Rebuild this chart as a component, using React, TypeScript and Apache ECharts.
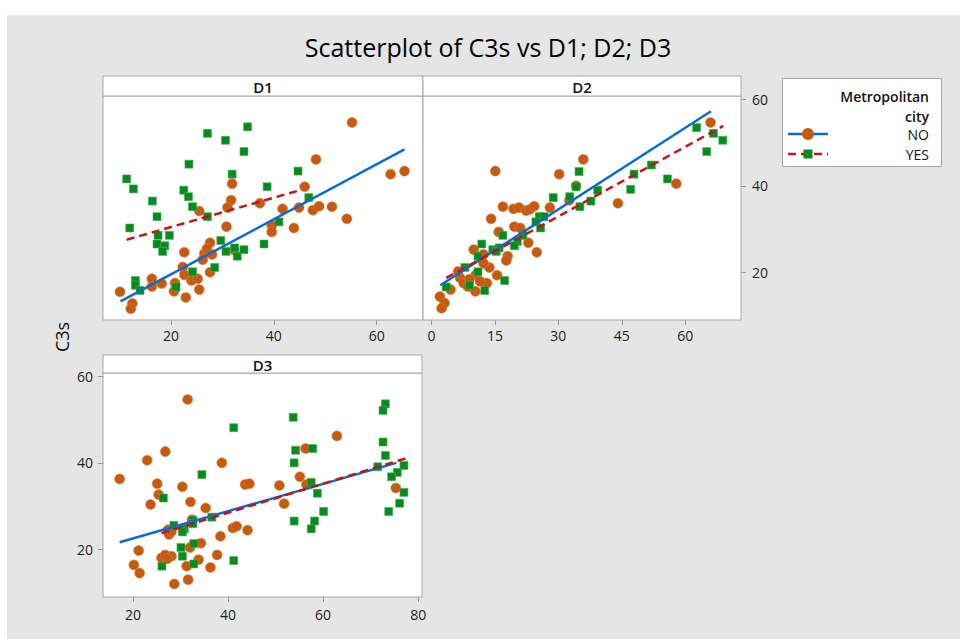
import React, { useEffect, useRef } from "react";
import * as echarts from "echarts";

// ---- data ----
const panelNames = ["D1", "D2", "D3"];
const yTicks = [20, 40, 60];
const d1Ticks = [20, 40, 60];
const d2Ticks = [0, 15, 30, 45, 60];
const d3Ticks = [20, 40, 60, 80];
const legendTitle = ["Metropolitan", "city"];
const groups = ["NO", "YES"];

const d1No: [number, number][] = [
  [55.2, 54.6], [48.2, 46.1], [62.7, 42.7], [65.4, 43.4], [46.0, 39.8], [31.9, 40.5],
  [31.7, 36.7], [31.0, 35.0], [37.3, 36.0], [25.5, 34.2], [41.7, 34.7], [44.9, 35.0],
  [47.6, 34.4], [48.8, 35.3], [51.3, 35.2], [54.2, 32.4], [30.8, 30.6], [39.6, 30.9],
  [39.6, 29.4], [43.9, 30.3], [27.6, 26.9], [22.6, 24.7], [26.5, 24.4], [28.0, 24.2],
  [26.2, 23.0], [32.3, 25.2], [22.3, 21.3], [22.6, 19.5], [27.6, 20.1], [16.3, 18.6],
  [16.3, 16.8], [18.2, 17.5], [20.8, 17.6], [20.6, 15.7], [24.0, 18.2], [25.2, 18.6],
  [25.5, 16.1], [22.9, 14.3], [10.1, 15.6], [12.5, 12.9], [12.2, 11.7], [27.0, 25.5],
];
const d1Yes: [number, number][] = [
  [34.9, 53.6], [27.1, 52.1], [30.6, 50.5], [34.2, 47.9], [23.5, 45.0], [11.4, 41.6],
  [12.7, 39.3], [31.9, 42.7], [44.7, 43.4], [38.7, 39.8], [22.5, 39.0], [23.4, 37.5],
  [16.4, 36.5], [24.2, 35.2], [46.8, 37.3], [17.3, 32.9], [27.1, 32.9], [12.0, 30.3],
  [17.5, 28.6], [19.7, 28.6], [17.3, 26.6], [18.8, 26.2], [18.4, 24.9], [41.0, 31.7],
  [29.7, 27.4], [30.7, 24.9], [32.4, 25.7], [32.9, 23.8], [34.2, 25.3], [38.1, 26.6],
  [28.5, 21.2], [24.2, 20.2], [13.1, 18.2], [13.1, 17.1], [14.0, 15.9], [21.0, 16.7],
];
const d2No: [number, number][] = [
  [66.0, 54.6], [57.9, 40.5], [44.1, 36.0], [35.9, 46.1], [30.2, 42.7], [34.2, 40.0],
  [32.6, 36.7], [15.1, 43.4], [28.0, 35.0], [16.9, 35.2], [19.4, 34.7], [20.7, 35.0],
  [22.4, 34.3], [23.3, 34.6], [24.3, 35.3], [14.1, 32.4], [19.6, 30.6], [21.0, 30.3],
  [15.9, 29.4], [22.9, 26.9], [24.9, 24.7], [10.0, 25.3], [12.3, 24.2], [18.0, 23.8],
  [17.7, 22.8], [13.7, 21.2], [15.5, 19.4], [13.1, 17.6], [10.4, 15.7], [6.3, 20.3],
  [6.8, 18.8], [7.6, 17.6], [8.6, 16.8], [10.5, 19.5], [4.5, 16.1], [2.0, 14.5],
  [3.1, 13.0], [2.4, 11.8], [12.3, 22.2], [9.0, 18.5], [11.5, 18.0],
];
const d2Yes: [number, number][] = [
  [62.7, 53.4], [66.7, 52.1], [68.9, 50.5], [65.1, 47.9], [52.0, 44.8], [47.9, 42.7],
  [47.1, 39.2], [55.8, 41.6], [34.9, 43.3], [34.2, 39.8], [39.3, 39.0], [32.7, 37.5],
  [37.7, 36.5], [35.1, 35.2], [28.8, 37.3], [25.5, 32.9], [26.6, 32.9], [24.7, 31.7],
  [25.8, 30.3], [16.9, 28.6], [21.6, 28.6], [20.3, 27.2], [19.6, 26.2], [16.0, 25.7],
  [14.5, 25.3], [15.3, 24.9], [11.9, 26.6], [11.0, 23.8], [7.9, 21.2], [11.0, 20.2],
  [17.3, 18.2], [9.0, 17.1], [12.6, 15.9], [3.5, 16.7],
];
const d3No: [number, number][] = [
  [17.2, 36.3], [31.5, 54.6], [23.0, 40.6], [26.8, 42.6], [38.7, 40.0], [25.1, 35.2],
  [25.4, 32.7], [23.7, 30.4], [30.4, 34.5], [32.1, 31.0], [35.3, 29.6], [62.9, 46.2],
  [56.3, 43.3], [55.1, 36.8], [56.5, 35.0], [43.6, 35.0], [44.5, 35.2], [50.8, 34.8],
  [51.8, 30.6], [75.3, 34.2], [21.2, 19.8], [20.2, 16.5], [21.4, 14.6], [27.4, 24.6],
  [27.6, 23.5], [28.1, 24.2], [26.0, 18.1], [26.8, 18.8], [28.1, 18.5], [27.2, 17.9],
  [28.7, 12.1], [31.3, 16.2], [31.6, 13.1], [32.0, 20.5], [34.3, 21.5], [33.8, 17.7],
  [36.3, 15.9], [37.7, 18.8], [38.4, 23.1], [41.0, 25.0], [41.8, 25.4], [44.1, 24.5],
  [32.4, 26.9],
];
const d3Yes: [number, number][] = [
  [73.1, 53.6], [72.6, 52.1], [53.7, 50.5], [41.2, 48.1], [72.6, 44.8], [54.2, 42.9],
  [57.8, 43.3], [73.1, 41.7], [53.9, 40.0], [71.5, 39.1], [77.0, 39.4], [75.6, 37.8],
  [74.4, 36.8], [34.5, 37.3], [57.5, 35.5], [58.8, 33.0], [77.0, 33.2], [26.4, 31.9],
  [60.1, 28.8], [73.8, 28.8], [76.1, 30.7], [53.9, 26.6], [58.2, 26.6], [57.5, 24.8],
  [36.6, 27.5], [32.6, 26.8], [32.6, 26.0], [28.6, 25.6], [30.8, 24.8], [30.4, 24.1],
  [32.8, 21.4], [30.1, 20.5], [30.4, 18.5], [32.8, 16.7], [26.1, 16.2], [41.2, 17.5],
];
// fitted regression lines (end points)
const d1FitNo: [number, number][] = [[10.2, 13.4], [65.4, 48.4]];
const d1FitYes: [number, number][] = [[11.4, 27.6], [44.5, 38.8]];
const d2FitNo: [number, number][] = [[2.1, 17.1], [66.1, 57.2]];
const d2FitYes: [number, number][] = [[3.5, 18.8], [69.0, 53.8]];
const d3FitNo: [number, number][] = [[17.2, 21.7], [75.4, 40.0]];
const d3FitYes: [number, number][] = [[26.0, 23.8], [77.3, 41.0]];

const xRanges: [number, number][] = [[6.8, 69], [-2, 73.2], [13.7, 80.8]];
const yRange: [number, number] = [9.1, 60.7];

const ORANGE = "#c55a11";
const GREEN = "#0a8a1e";
const BLUE = "#0a6ccc";
const RED = "#c0161b";
const BORDER = "#a6a6a6";
const FONT = "'Open Sans', 'Noto Sans', sans-serif";

export default function App() {
  const ref = useRef<HTMLDivElement>(null);
  useEffect(() => {
    if (!ref.current) return;
    const chart = echarts.init(ref.current, undefined, { renderer: "svg" });
    const grids = [
      { left: 103, top: 96, width: 320, height: 224 },
      { left: 423, top: 96, width: 318, height: 224 },
      { left: 103, top: 373, width: 319, height: 224 },
    ];
    const xTickSets = [d1Ticks, d2Ticks, d3Ticks];
    const panels = [
      [d1No, d1Yes, d1FitNo, d1FitYes],
      [d2No, d2Yes, d2FitNo, d2FitYes],
      [d3No, d3Yes, d3FitNo, d3FitYes],
    ];
    const labelStyle = { color: "#222", fontSize: 14, fontWeight: 500, fontFamily: FONT };
    const xAxis = grids.map((_, i) => ({
      type: "value",
      gridIndex: i,
      min: xRanges[i][0],
      max: xRanges[i][1],
      splitLine: { show: false },
      axisLine: { show: false, onZero: false },
      axisTick: {
        show: true,
        inside: false,
        length: 5,
        customValues: xTickSets[i],
        lineStyle: { color: "#999" },
      },
      axisLabel: {
        ...labelStyle,
        margin: i === 2 ? 10 : 8,
        customValues: xTickSets[i],
      },
    }));
    const yAxis = grids.map((_, i) => ({
      type: "value",
      gridIndex: i,
      min: yRange[0],
      max: yRange[1],
      position: i === 1 ? "right" : "left",
      splitLine: { show: false },
      axisLine: { show: false, onZero: false },
      axisTick: {
        show: i !== 0,
        inside: false,
        length: 5,
        customValues: yTicks,
        lineStyle: { color: "#999" },
      },
      axisLabel: {
        ...labelStyle,
        show: i !== 0,
        margin: i === 1 ? 11 : 10,
        customValues: yTicks,
      },
    }));
    const series: any[] = [];
    panels.forEach((p, i) => {
      series.push({
        type: "scatter",
        xAxisIndex: i,
        yAxisIndex: i,
        data: p[0],
        symbol: "circle",
        symbolSize: 10,
        itemStyle: { color: ORANGE, borderColor: "#d9823f", borderWidth: 0.6, opacity: 1 },
        z: 3,
      });
      series.push({
        type: "scatter",
        xAxisIndex: i,
        yAxisIndex: i,
        data: p[1],
        symbol: "rect",
        symbolSize: 8,
        itemStyle: { color: GREEN, borderColor: "#3fb45a", borderWidth: 0.6, opacity: 1 },
        z: 4,
      });
      series.push({
        type: "line",
        xAxisIndex: i,
        yAxisIndex: i,
        data: p[2],
        symbol: "none",
        lineStyle: { color: BLUE, width: 2.5 },
        z: 5,
      });
      series.push({
        type: "line",
        xAxisIndex: i,
        yAxisIndex: i,
        data: p[3],
        symbol: "none",
        lineStyle: { color: RED, width: 2.5, type: [8, 5] },
        z: 6,
      });
    });

    const headers = [
      { x: 103, y: 76, w: 320 },
      { x: 423, y: 76, w: 318 },
      { x: 103, y: 355, w: 319 },
    ];
    const graphic: any[] = [
      { type: "rect", shape: { x: 0, y: 0, width: 960, height: 15 }, style: { fill: "#fff" }, silent: true },
      { type: "rect", shape: { x: 0, y: 0, width: 7, height: 639 }, style: { fill: "#fff" }, silent: true },
      {
        type: "text",
        x: 488,
        y: 47,
        style: {
          text: "Scatterplot of C3s vs D1; D2; D3",
          fill: "#000",
          font: `25px ${FONT}`,
          textAlign: "center",
          textVerticalAlign: "middle",
        },
      },
      {
        type: "text",
        x: 62,
        y: 337,
        rotation: Math.PI / 2,
        style: {
          text: "C3s",
          fill: "#111",
          font: `500 18px ${FONT}`,
          textAlign: "center",
          textVerticalAlign: "middle",
        },
      },
    ];
    headers.forEach((h, i) => {
      const hh = i === 2 ? 18 : 20;
      graphic.push({
        type: "rect",
        shape: { x: h.x, y: h.y, width: h.w, height: hh },
        style: { fill: "#fff", stroke: BORDER, lineWidth: 1 },
      });
      graphic.push({
        type: "text",
        x: h.x + h.w / 2,
        y: h.y + hh / 2 + 0.5,
        style: {
          text: panelNames[i],
          fill: "#111",
          font: `600 15px ${FONT}`,
          textAlign: "center",
          textVerticalAlign: "middle",
        },
      });
    });
    // legend
    graphic.push({
      type: "rect",
      shape: { x: 782.5, y: 78.5, width: 159, height: 88 },
      style: { fill: "#fff", stroke: BORDER, lineWidth: 1 },
    });
    legendTitle.forEach((t, k) => {
      graphic.push({
        type: "text",
        x: 929,
        y: 96 + k * 20,
        style: {
          text: t,
          fill: "#111",
          font: `600 14px ${FONT}`,
          textAlign: "right",
          textVerticalAlign: "middle",
        },
      });
    });
    groups.forEach((g, k) => {
      const y = 134 + k * 20;
      graphic.push({
        type: "text",
        x: 929,
        y,
        style: { text: g, fill: "#111", font: `500 14px ${FONT}`, textAlign: "right", textVerticalAlign: "middle" },
      });
      graphic.push({
        type: "line",
        shape: { x1: 788, y1: y, x2: 828, y2: y },
        style: k === 0 ? { stroke: BLUE, lineWidth: 2.5 } : { stroke: RED, lineWidth: 2.5, lineDash: [8, 5] },
      });
      if (k === 0) {
        graphic.push({ type: "circle", shape: { cx: 808, cy: y, r: 6 }, style: { fill: ORANGE } });
      } else {
        graphic.push({ type: "rect", shape: { x: 803.5, y: y - 4.5, width: 9, height: 9 }, style: { fill: GREEN } });
      }
    });

    chart.setOption({
      animation: false,
      backgroundColor: "#e5e5e5",
      grid: grids.map((g) => ({
        ...g,
        show: true,
        backgroundColor: "#fff",
        borderColor: BORDER,
        borderWidth: 1,
        containLabel: false,
      })),
      xAxis,
      yAxis,
      series,
      graphic,
    });
    return () => chart.dispose();
  }, []);
  return (
    <div
      ref={ref}
      style={{ position: "absolute", left: 0, top: 0, width: 960, height: 639 }}
    />
  );
}
